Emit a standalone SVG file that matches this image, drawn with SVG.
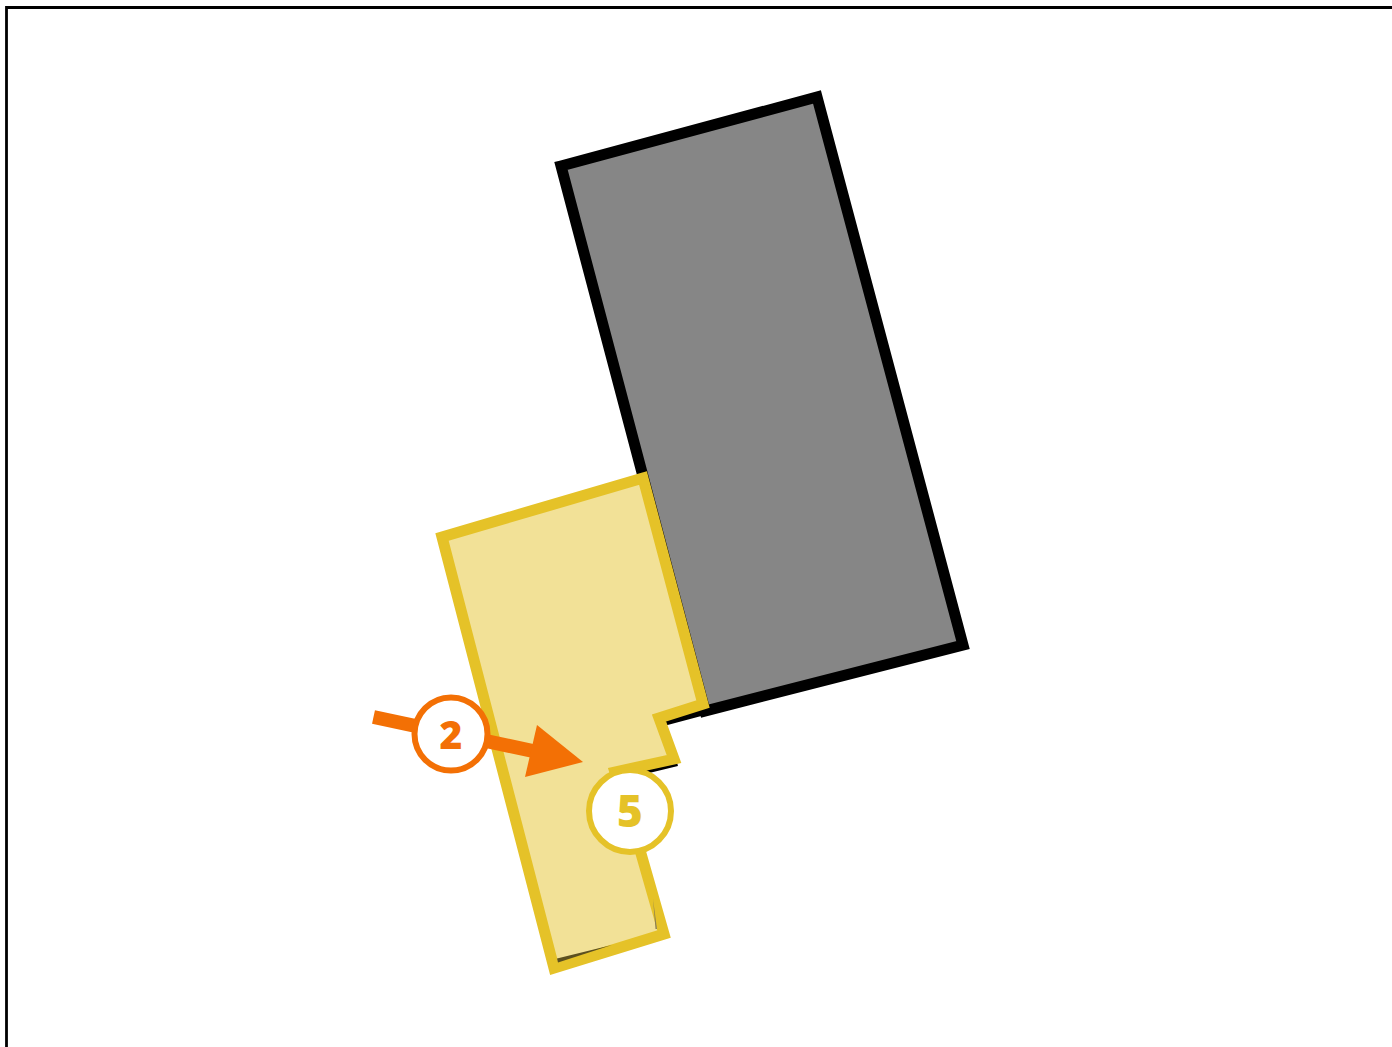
<svg xmlns="http://www.w3.org/2000/svg" width="1392" height="1047" viewBox="0 0 1392 1047">
<style>
.num{font-family:"Open Sans","Noto Sans",sans-serif;font-weight:800;text-anchor:middle}
.badge{fill:#fff;stroke-width:6}
</style>
<rect width="1392" height="1047" fill="#fff"/>
<path id="frame" d="M6.500 1060V7.500H1400" fill="none" stroke="#000" stroke-width="2.800"/>
<g id="building">
<polygon points="561,166 817,97 963,645 705,711" fill="#868686" stroke="#000" stroke-width="11"/>
<path d="M705 711L660 723M677 762L640 771" fill="none" stroke="#000" stroke-width="8"/>
</g>
<g id="zone">
<polygon points="643,478 442,537 554,968 664,934 640,850 615,772 674,759 659,718 703,704" fill="#f2e197" stroke="#e5c228" stroke-width="11"/>
<polygon points="557,958.500 558,962.500 612,945" fill="#5c5020"/>
<polygon points="653,899 655.500,929 657,929" fill="#8c8050"/>
</g>
<g id="connectors">
<path d="M373.500 717L540 752.500" fill="none" stroke="#f37005" stroke-width="14"/>
<polygon points="537,725 583,762 525,777" fill="#f37005"/>
</g>
<g id="badge-2">
<circle class="badge" cx="451" cy="734" r="36.500" stroke="#f37005"/>
<text class="num" x="451" y="749" font-size="39" fill="#f37005">2</text>
</g>
<g id="badge-5">
<circle class="badge" cx="630" cy="811" r="41" stroke="#e5c228"/>
<text class="num" x="630" y="827" font-size="44" fill="#e5c228">5</text>
</g>
</svg>
